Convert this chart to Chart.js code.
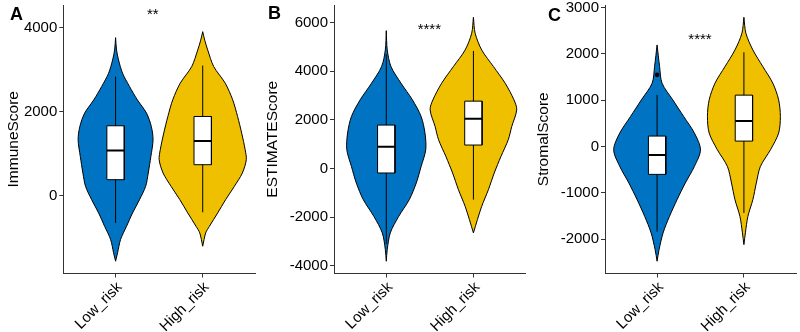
<!DOCTYPE html>
<html>
<head>
<meta charset="utf-8">
<script src="https://cdn.jsdelivr.net/npm/chart.js@4"></script>
<style>
body { margin: 0; background: #fff; }
#wrap { position: relative; width: 800px; height: 332px; }
canvas { position: absolute; left: 0; top: 0; }
.tag { position: absolute; font: bold 18px 'Liberation Sans', Arial, sans-serif; line-height: 18px; color: #000; }
</style>
</head>
<body>
<div id="wrap">
  <canvas id="chartA" width="800" height="332"></canvas>
  <canvas id="chartB" width="800" height="332"></canvas>
  <canvas id="chartC" width="800" height="332"></canvas>
  <div class="tag" style="left:10px;top:4.5px">A</div>
  <div class="tag" style="left:268px;top:4px">B</div>
  <div class="tag" style="left:548px;top:5.5px">C</div>
</div>
<script>
const groups = ['Low_risk', 'High_risk'];
const fills = ['#0073C2', '#EFC000'];

// ImmuneScore: violin outline (value levels, half width in category units)
const immuneLowLevels = [3760, 3468, 3230, 2914, 2597, 2280, 1964, 1647, 1330, 934, 539, 221, -95, -411, -729, -1045, -1361, -1560];
const immuneLowWidths = [0, .011, .034, .08, .16, .25, .355, .41, .43, .405, .375, .345, .275, .195, .126, .057, .023, 0];
const immuneHighLevels = [3902, 3700, 3468, 3072, 2677, 2280, 1884, 1489, 1093, 855, 539, 221, -95, -411, -729, -887, -1204];
const immuneHighWidths = [0, .023, .057, .126, .258, .344, .40, .447, .487, .50, .455, .363, .263, .172, .077, .034, 0];
const immuneQ1 = [380, 736];
const immuneMedian = [1076, 1299];
const immuneQ3 = [1663, 1884];
const immuneWhiskerLo = [-648, -396];
const immuneWhiskerHi = [2834, 3095];
const immuneTicks = [0, 2000, 4000];

// ESTIMATEScore
const estimateLowLevels = [5667, 4874, 4189, 3507, 2821, 2135, 1454, 768, 82, -600, -1285, -1971, -2653, -3338, -3819];
const estimateLowWidths = [0, .011, .054, .169, .30, .40, .444, .453, .40, .344, .264, .143, .046, .011, 0];
const estimateHighLevels = [6218, 5560, 4874, 4189, 3507, 2821, 2411, 1725, 1179, 493, -189, -875, -1561, -2107, -2653];
const estimateHighWidths = [0, .02, .095, .23, .364, .465, .497, .44, .40, .316, .239, .172, .095, .046, 0];
const estimateQ1 = [-189, 961];
const estimateMedian = [891, 2041];
const estimateQ3 = [1782, 2768];
const estimateWhiskerLo = [-3100, -1285];
const estimateWhiskerHi = [4700, 4834];
const estimateTicks = [-4000, -2000, 0, 2000, 4000, 6000];

// StromalScore
const stromalLowLevels = [2192, 1724, 1366, 1006, 647, 289, -71, -431, -789, -1149, -1509, -1866, -2226, -2478];
const stromalLowWidths = [0, .029, .057, .181, .306, .43, .50, .43, .325, .23, .143, .069, .023, 0];
const stromalHighLevels = [2789, 2444, 2084, 1724, 1366, 1006, 647, 289, -71, -431, -789, -1149, -1509, -1866, -2119];
const stromalHighWidths = [0, .023, .103, .218, .333, .40, .42, .40, .306, .19, .143, .103, .046, .017, 0];
const stromalQ1 = [-603, 116];
const stromalMedian = [-185, 547];
const stromalQ3 = [224, 1108];
const stromalWhiskerLo = [-1840, -1435];
const stromalWhiskerHi = [1114, 2034];
const stromalOutliersLow = [1545];
const stromalTicks = [-2000, -1000, 0, 1000, 2000, 3000];

const yLimits = { A: [-1853, 4537], B: [-4324, 6723], C: [-2743, 3054] };
const sigLabels = ['**', '****', '****'];
const sigValues = [4418, 5901, 2407];

Chart.defaults.font.family = "'Liberation Sans', Arial, sans-serif";
Chart.defaults.color = '#000';

const sigPlugin = {
    id: 'sig',
    afterDatasetsDraw(chart, args, opts) {
        const { ctx, scales } = chart;
        ctx.save();
        ctx.font = "15px 'Liberation Sans', Arial, sans-serif";
        ctx.fillStyle = '#000';
        ctx.textAlign = 'left';
        ctx.fillText(opts.text, scales.x.getPixelForValue(1.36), scales.y.getPixelForValue(opts.value) + 9);
        ctx.restore();
    }
};

function violin(c, levels, widths) {
    const pts = levels.map((v, i) => ({ x: c - widths[i], y: v }));
    for (let i = levels.length - 1; i >= 0; i--) pts.push({ x: c + widths[i], y: levels[i] });
    return pts;
}

function buildDatasets(violins, q1, med, q3, wLo, wHi, outliers) {
    const ds = [];
    const bw = 0.1;
    for (let g = 0; g < 2; g++) {
        const c = g + 1;
        ds.push({ data: violin(c, violins[g][0], violins[g][1]), showLine: true, fill: 'shape',
            backgroundColor: fills[g], borderColor: '#000', borderWidth: 1, tension: 0.3, order: 5 });
        ds.push({ data: [{ x: c, y: wLo[g] }, { x: c, y: wHi[g] }], showLine: true,
            borderColor: '#000', borderWidth: 1, order: 4 });
        ds.push({ data: [{ x: c - bw, y: q1[g] }, { x: c - bw, y: q3[g] }, { x: c + bw, y: q3[g] }, { x: c + bw, y: q1[g] }, { x: c - bw, y: q1[g] }],
            showLine: true, fill: 'shape', backgroundColor: '#fff', borderColor: '#000', borderWidth: 1, order: 3 });
        ds.push({ data: [{ x: c - bw, y: med[g] }, { x: c + bw, y: med[g] }], showLine: true,
            borderColor: '#000', borderWidth: 2, order: 2 });
    }
    if (outliers) {
        ds.push({ data: outliers.map(v => ({ x: 1, y: v })), pointRadius: 2.3, backgroundColor: '#000',
            borderWidth: 0, order: 1 });
    }
    return ds;
}

function makePanel(id, key, idx, title, datasets, yTicks, padLeft, areaRight, yWidth) {
    new Chart(document.getElementById(id), {
        type: 'scatter',
        data: { datasets: datasets },
        options: {
            responsive: false,
            animation: false,
            elements: { point: { radius: 0 } },
            layout: { padding: { left: padLeft, right: 800 - areaRight, top: 5, bottom: 0 } },
            plugins: {
                legend: { display: false },
                tooltip: { enabled: false },
                sig: { text: sigLabels[idx], value: sigValues[idx] }
            },
            scales: {
                x: {
                    type: 'linear',
                    min: 0.4,
                    max: 2.6,
                    afterBuildTicks: s => { s.ticks = [{ value: 1 }, { value: 2 }]; },
                    afterFit: s => { s.height = 58.5; s.paddingLeft = 0; s.paddingRight = 0; },
                    ticks: {
                        autoSkip: false, minRotation: 45, maxRotation: 45, color: '#000',
                        font: { size: 15 }, padding: 1, labelOffset: 4,
                        callback: v => groups[v - 1]
                    },
                    grid: { drawOnChartArea: false, tickLength: 4, color: '#333', tickColor: '#333' },
                    border: { color: '#333', width: 1 }
                },
                y: {
                    type: 'linear',
                    min: yLimits[key][0],
                    max: yLimits[key][1],
                    afterBuildTicks: s => { s.ticks = yTicks.map(v => ({ value: v })); },
                    afterFit: s => { s.width = yWidth; s.paddingTop = 0; s.paddingBottom = 0; },
                    ticks: {
                        autoSkip: false, color: '#000', font: { size: 15 }, padding: 2,
                        callback: v => String(v)
                    },
                    title: { display: true, text: title, color: '#000', font: { size: 15.5 }, padding: 0 },
                    grid: { drawOnChartArea: false, tickLength: 4, color: '#333', tickColor: '#333' },
                    border: { color: '#333', width: 1 }
                }
            }
        },
        plugins: [sigPlugin]
    });
}

makePanel('chartA', 'A', 0, 'ImmuneScore',
    buildDatasets([[immuneLowLevels, immuneLowWidths], [immuneHighLevels, immuneHighWidths]],
        immuneQ1, immuneMedian, immuneQ3, immuneWhiskerLo, immuneWhiskerHi, null),
    immuneTicks, 4, 255, 59.3);
makePanel('chartB', 'B', 1, 'ESTIMATEScore',
    buildDatasets([[estimateLowLevels, estimateLowWidths], [estimateHighLevels, estimateHighWidths]],
        estimateQ1, estimateMedian, estimateQ3, estimateWhiskerLo, estimateWhiskerHi, null),
    estimateTicks, 263.5, 525.7, 70.5);
makePanel('chartC', 'C', 2, 'StromalScore',
    buildDatasets([[stromalLowLevels, stromalLowWidths], [stromalHighLevels, stromalHighWidths]],
        stromalQ1, stromalMedian, stromalQ3, stromalWhiskerLo, stromalWhiskerHi, stromalOutliersLow),
    stromalTicks, 534, 796.7, 71);
</script>
</body>
</html>
